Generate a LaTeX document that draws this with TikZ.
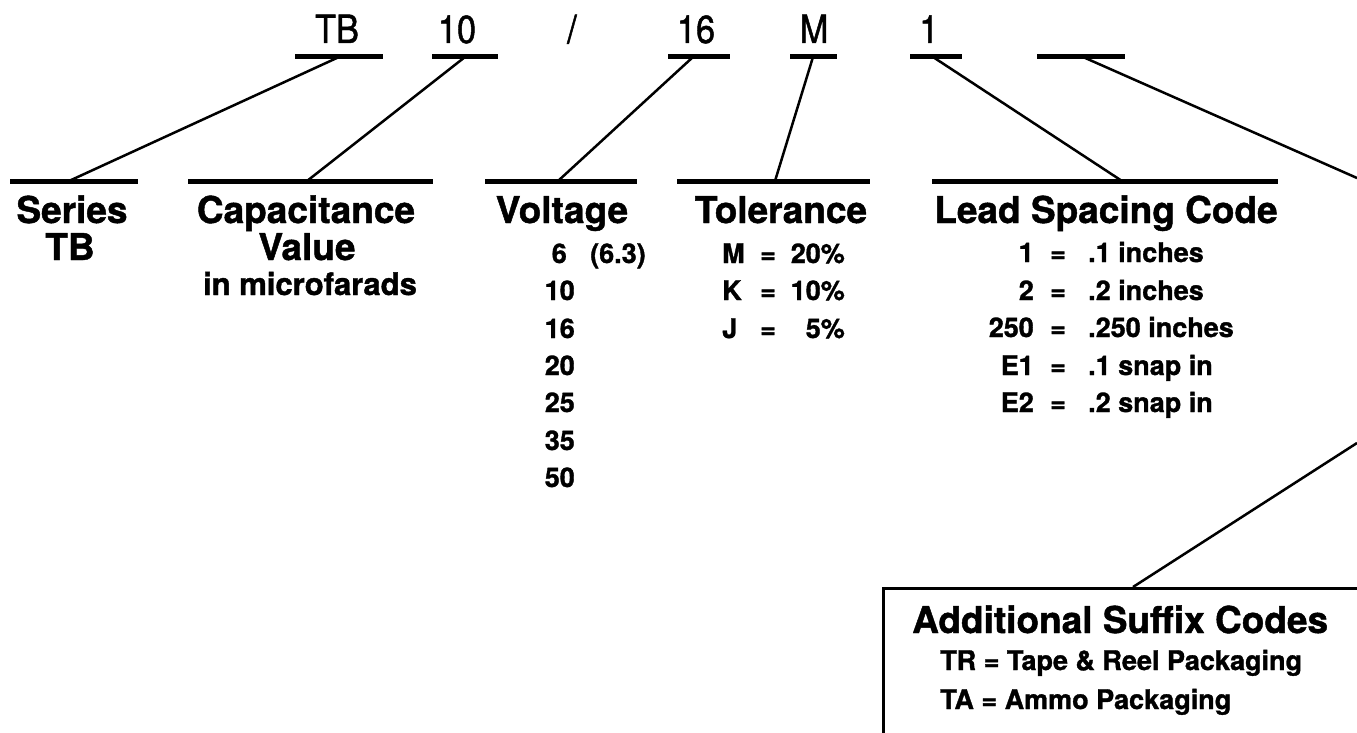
\documentclass[tikz,border=0pt]{standalone}
\usepackage{fontspec}
\setmainfont{TeX Gyre Heros}
\newfontfamily\codefont[FakeStretch=0.88, FakeBold=1.2]{texgyreheros-regular.otf}
\newfontfamily\heavyfont[FakeBold=1.2]{texgyreheros-bold.otf}
\usetikzlibrary{calc}
\tikzset{
  code/.style={anchor=base, inner sep=0pt, font=\codefont\fontsize{39}{39}\selectfont},
  head/.style={anchor=base, inner sep=0pt, font=\heavyfont\fontsize{37}{37}\selectfont},
  sub/.style={anchor=base, inner sep=0pt, font=\heavyfont\fontsize{31}{31}\selectfont},
  item/.style={inner sep=0pt, font=\heavyfont\fontsize{27}{27}\selectfont},
  bar/.style={fill=black, inner sep=0pt, minimum height=5pt},
  link/.style={line width=2.5pt},
}
\begin{document}
\begin{tikzpicture}[x=1pt,y=-1pt]
\useasboundingbox (0,0) rectangle (1357,733);
\clip (0,0) rectangle (1357,733);

% part number code, top row
\node[code] (tTB)  at (337,43) {TB};
\node[code] (t10)  at (457,43) {10};
\node[code] (tsl)  at (572,43) {/};
\node[code] (t16)  at (696,43) {16};
\node[code] (tM)   at (814,43) {M};
\node[code] (t1)   at (929,43) {1};

\node[bar, minimum width=88pt]  (bTB)  at (339,57) {};
\node[bar, minimum width=66pt]  (b10)  at (465,57) {};
\node[bar, minimum width=62pt]  (b16)  at (699,57) {};
\node[bar, minimum width=47pt]  (bM)   at (813,57) {};
\node[bar, minimum width=52pt]  (b1)   at (936,57) {};
\node[bar, minimum width=88pt]  (bSfx) at (1081,57) {};

% field underlines
\node[bar, minimum width=128pt] (bSeries) at (74,181) {};
\node[bar, minimum width=245pt] (bCap)    at (310,181) {};
\node[bar, minimum width=152pt] (bVolt)   at (561,181) {};
\node[bar, minimum width=193pt] (bTol)    at (773,181) {};
\node[bar, minimum width=346pt] (bLead)   at (1105,181) {};

% field headings
\node[head] (hSeries) at (72,223)  {Series};
\node[head] (hTB)     at (70,260)  {TB};
\node[head] (hCap)    at (306,223) {Capacitance};
\node[head] (hVal)    at (307,260) {Value};
\node[sub]  (hMicro)  at (310,295) {in microfarads};
\node[head] (hVolt)   at (562,223) {Voltage};
\node[head] (hTol)    at (781,223) {Tolerance};
\node[head] (hLead)   at (1106,223) {Lead Spacing Code};

% voltage ratings
\node[item, anchor=base east] (v6)  at (567,263) {6};
\node[item, anchor=base west] (v63) at (590,263) {(6.3)};
\node[item, anchor=base east] (v10) at (575,300) {10};
\node[item, anchor=base east] (v16) at (575,338) {16};
\node[item, anchor=base east] (v20) at (575,375) {20};
\node[item, anchor=base east] (v25) at (575,412) {25};
\node[item, anchor=base east] (v35) at (575,450) {35};
\node[item, anchor=base east] (v50) at (575,487) {50};

% tolerance codes
\node[item, anchor=base west] (tolM)  at (722,263) {M};
\node[item, anchor=base]      (tolMe) at (768,263) {=};
\node[item, anchor=base east] (tolMv) at (845,263) {20\%};
\node[item, anchor=base west] (tolK)  at (722,300) {K};
\node[item, anchor=base]      (tolKe) at (768,300) {=};
\node[item, anchor=base east] (tolKv) at (845,300) {10\%};
\node[item, anchor=base west] (tolJ)  at (722,338) {J};
\node[item, anchor=base]      (tolJe) at (768,338) {=};
\node[item, anchor=base east] (tolJv) at (845,338) {5\%};

% lead spacing codes
\node[item, anchor=base east] (l1)   at (1034,262) {1};
\node[item, anchor=base]      (l1e)  at (1058,262) {=};
\node[item, anchor=base west] (l1v)  at (1088,262) {.1 inches};
\node[item, anchor=base east] (l2)   at (1034,300) {2};
\node[item, anchor=base]      (l2e)  at (1058,300) {=};
\node[item, anchor=base west] (l2v)  at (1088,300) {.2 inches};
\node[item, anchor=base east] (l3)   at (1034,337) {250};
\node[item, anchor=base]      (l3e)  at (1058,337) {=};
\node[item, anchor=base west] (l3v)  at (1088,337) {.250 inches};
\node[item, anchor=base east] (l4)   at (1034,375) {E1};
\node[item, anchor=base]      (l4e)  at (1058,375) {=};
\node[item, anchor=base west] (l4v)  at (1088,375) {.1 snap in};
\node[item, anchor=base east] (l5)   at (1034,412) {E2};
\node[item, anchor=base]      (l5e)  at (1058,412) {=};
\node[item, anchor=base west] (l5v)  at (1088,412) {.2 snap in};

% suffix box, running off the page
\node[draw, line width=3pt, inner sep=0pt, anchor=north west,
      minimum width=560pt, minimum height=220pt] (sfxbox) at (882,587) {};
\node[head, anchor=base west] (hSfx) at (912,633) {Additional Suffix Codes};
\node[item, anchor=base west] (sTR) at (940,670) {TR = Tape \& Reel Packaging};
\node[item, anchor=base west] (sTA) at (940,709) {TA = Ammo Packaging};

% connectors
\coordinate (edgeA) at (1357,178);
\coordinate (edgeB) at (1357,443);
\draw[link] (bTB.center)  -- ($(bSeries.center)+(-5,0)$);
\draw[link] (b10.center)  -- ($(bCap.center)+(-3,0)$);
\draw[link] ($(b16.center)+(-6,0)$) -- ($(bVolt.center)+(-3,0)$);
\draw[link] (bM.center)   -- ($(bTol.center)+(2,0)$);
\draw[link] ($(b1.center)+(-3,0)$) -- ($(bLead.center)+(17,0)$);
\draw[link] ($(bSfx.center)+(2,0)$) -- (edgeA);
\draw[link] (edgeB) -- ($(sfxbox.north west)+(251,0)$);
\end{tikzpicture}
\end{document}
